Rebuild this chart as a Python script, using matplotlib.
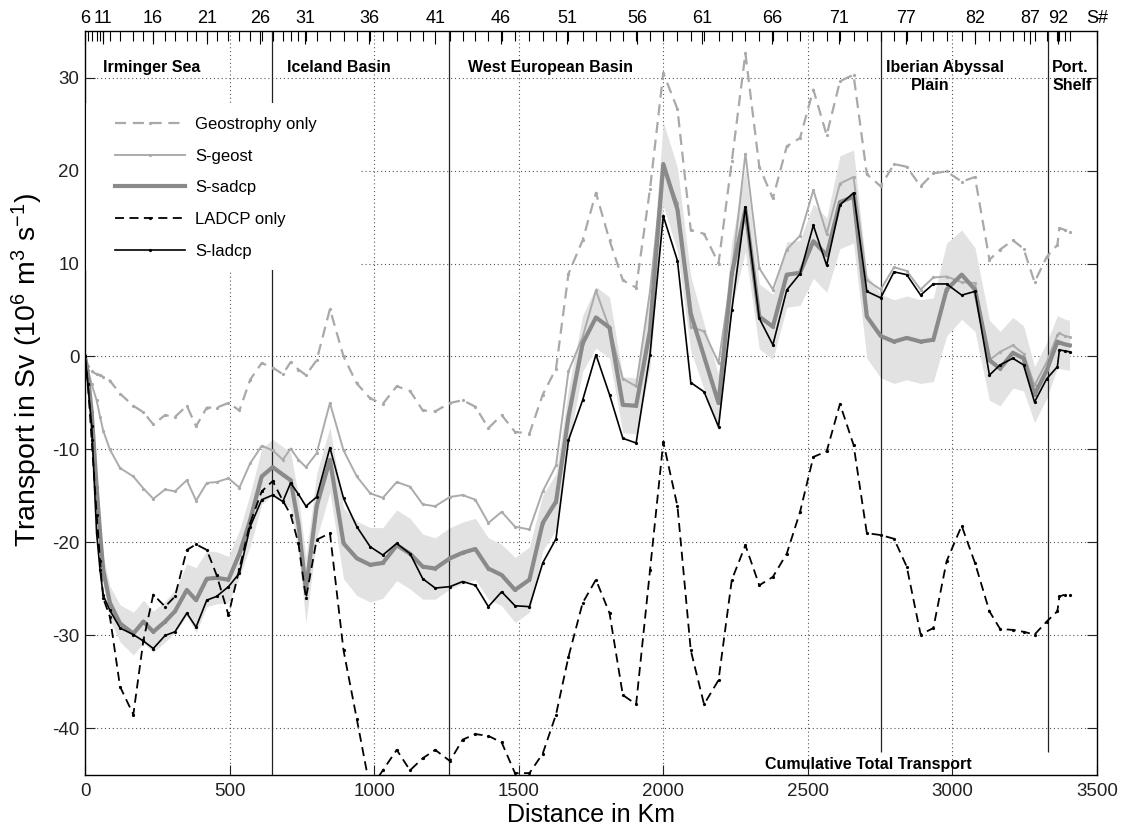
import numpy as np
import matplotlib
matplotlib.use("Agg")
import matplotlib.pyplot as plt
from matplotlib.patches import Rectangle

plt.rcParams['font.family'] = ['Liberation Sans', 'DejaVu Sans']
plt.rcParams['mathtext.default'] = 'regular'
plt.rcParams['axes.unicode_minus'] = False

# Station distances along the section (km)
dist_km = [0, 10, 23, 40, 52, 63,
           86, 121, 167, 202, 236,
           277, 311, 352, 384, 421,
           455, 496, 534, 571, 611,
           649, 684, 711, 738, 764,
           801, 847, 894, 940, 986,
           1030, 1078, 1124, 1168, 1211,
           1262, 1306, 1350, 1395, 1441,
           1487, 1537, 1583, 1629, 1672,
           1721, 1767, 1814, 1860, 1906,
           1954, 2000, 2049, 2095, 2141,
           2191, 2237, 2284, 2332, 2379,
           2427, 2473, 2519, 2565, 2611,
           2658, 2704, 2752, 2798, 2842,
           2890, 2934, 2980, 3032, 3078,
           3128, 3165, 3209, 3246, 3284,
           3326, 3363, 3370, 3390, 3405]

# Cumulative transports (Sv)
geostrophy_only = [0, -1.0, -1.6, -1.9, -2.0, -2.2,
                   -2.6, -4.0, -5.3, -6.0, -7.3,
                   -6.3, -6.5, -5.3, -7.5, -5.5,
                   -5.5, -5.0, -5.8, -2.5, -0.7,
                   -1.2, -1.9, -0.6, -1.4, -2.0,
                   -0.4, 5.1, 0.0, -2.9, -4.5,
                   -5.1, -3.2, -3.7, -5.8, -5.9,
                   -5.0, -4.7, -5.4, -7.7, -6.3,
                   -8.1, -8.3, -4.1, -1.3, 8.9,
                   12.5, 17.6, 12.5, 8.2, 7.4,
                   18.0, 30.5, 26.6, 13.6, 13.2,
                   10.0, 21.0, 32.6, 20.4, 17.0,
                   22.6, 23.5, 28.7, 23.8, 29.6,
                   30.3, 19.6, 18.3, 20.7, 20.4,
                   18.3, 19.7, 19.9, 18.8, 19.3,
                   10.4, 11.5, 12.5, 11.6, 8.0,
                   10.7, 12.0, 13.8, 13.6, 13.4]

s_geost = [0, -1.5, -3.0, -4.7, -6.5, -8.0,
           -10.0, -12.0, -12.9, -14.2, -15.3,
           -14.3, -14.5, -13.3, -15.5, -13.6,
           -13.5, -13.1, -14.1, -11.5, -9.6,
           -10.1, -11.1, -9.9, -11.1, -11.9,
           -10.4, -5.0, -10.1, -12.9, -14.7,
           -15.2, -13.5, -14.0, -15.9, -16.1,
           -15.1, -14.9, -15.4, -17.9, -16.7,
           -18.3, -18.6, -14.5, -11.7, -1.6,
           2.1, 7.1, 3.0, -2.4, -3.2,
           7.0, 20.5, 16.5, 3.2, 2.7,
           -0.7, 9.0, 21.8, 9.5, 7.2,
           11.5, 13.0, 17.9, 13.2, 18.6,
           19.3, 8.2, 7.2, 9.6, 9.2,
           7.2, 8.5, 8.6, 8.0, 7.9,
           -0.4, 0.5, 1.2, 0.3, -3.1,
           -0.6, 2.3, 2.5, 2.2, 2.1]

s_sadcp = [0, -2.0, -6.0, -14.0, -19.0, -23.0,
           -26.5, -28.7, -29.8, -28.5, -29.6,
           -28.5, -27.4, -25.1, -26.2, -23.9,
           -23.8, -24.0, -21.2, -17.6, -12.9,
           -11.9, -12.7, -13.3, -18.0, -25.1,
           -16.1, -11.1, -20.1, -21.7, -22.4,
           -22.2, -20.3, -21.2, -22.6, -22.8,
           -21.7, -21.1, -20.7, -22.8, -23.5,
           -25.1, -24.0, -17.9, -15.6, -6.5,
           1.4, 4.2, 3.1, -5.2, -5.3,
           2.8, 20.7, 15.8, 4.6, 0.0,
           -5.0, 8.9, 15.8, 4.3, 3.2,
           8.8, 9.0, 12.4, 10.9, 16.6,
           17.2, 4.3, 2.2, 1.6, 2.0,
           1.6, 1.8, 7.2, 8.8, 7.2,
           -0.4, -1.3, 0.4, -0.2, -4.1,
           -1.5, 1.6, 1.5, 1.3, 1.2]

# Uncertainty half-width of the S-sadcp estimate (Sv)
s_sadcp_err = [0, 0.3, 0.6, 1.0, 1.3, 1.5,
               1.8, 2.0, 2.3, 2.3, 2.2,
               2.2, 2.3, 2.8, 3.5, 3.0,
               2.8, 2.5, 2.5, 2.8, 3.0,
               3.0, 3.0, 3.0, 3.0, 3.5,
               3.5, 3.5, 3.8, 4.0, 4.0,
               3.8, 3.8, 3.8, 3.5, 3.3,
               3.3, 3.3, 3.3, 3.3, 3.3,
               3.5, 3.5, 3.0, 3.0, 3.0,
               3.0, 3.3, 3.3, 3.0, 3.0,
               4.0, 4.5, 4.5, 4.0, 3.5,
               3.0, 3.5, 4.5, 3.5, 3.5,
               3.5, 3.5, 4.0, 4.0, 5.0,
               5.0, 4.5, 4.5, 4.5, 4.5,
               4.5, 4.5, 5.0, 4.8, 4.5,
               4.3, 4.0, 3.8, 3.5, 3.0,
               3.0, 2.8, 2.8, 2.7, 2.7]

ladcp_only = [0, -3.0, -9.0, -17.0, -22.0, -26.0,
              -28.0, -35.5, -38.5, -30.5, -25.6,
              -26.9, -25.8, -20.8, -20.2, -20.8,
              -23.5, -27.8, -22.8, -17.9, -14.5,
              -13.4, -15.5, -17.0, -20.1, -26.0,
              -19.7, -19.0, -31.6, -39.0, -46.5,
              -44.5, -42.3, -44.5, -43.2, -42.3,
              -43.5, -41.2, -40.6, -40.8, -41.5,
              -44.8, -44.8, -42.7, -38.5, -32.3,
              -26.5, -24.0, -27.6, -36.4, -37.4,
              -23.0, -9.2, -16.1, -31.6, -37.4,
              -34.8, -24.0, -20.3, -24.6, -23.7,
              -21.2, -16.7, -10.8, -10.2, -5.1,
              -9.5, -19.0, -19.2, -19.6, -22.6,
              -29.9, -29.2, -22.0, -18.2, -22.2,
              -27.4, -29.3, -29.4, -29.6, -29.9,
              -28.5, -27.4, -25.8, -25.6, -25.7]

s_ladcp = [0, -3.0, -7.5, -19.0, -23.0, -25.7,
           -27.3, -29.2, -29.9, -30.6, -31.4,
           -30.0, -29.6, -27.6, -29.1, -26.2,
           -25.8, -24.75, -23.3, -18.3, -15.4,
           -14.9, -15.6, -13.6, -14.8, -16.1,
           -15.1, -9.8, -15.25, -18.3, -20.45,
           -21.35, -20.1, -21.2, -23.9, -24.9,
           -24.75, -24.2, -24.6, -26.9, -25.3,
           -26.8, -26.9, -22.2, -19.6, -9.0,
           -4.7, 0.2, -4.1, -8.8, -9.3,
           0.2, 15.1, 10.3, -2.8, -3.8,
           -7.55, 5.0, 16.1, 4.1, 1.25,
           7.15, 8.9, 14.1, 9.8, 16.3,
           17.6, 7.0, 6.3, 9.1, 8.8,
           6.6, 7.8, 7.8, 6.6, 7.0,
           -2.0, -0.9, -0.2, -0.9, -4.9,
           -2.4, -1.1, 0.7, 0.6, 0.5]

# Basin boundaries (km) and station-number axis
basin_bounds_km = [648, 1258, 2752, 3332]
station_label_km = [0, 62, 235, 422, 605, 761, 983, 1211, 1439, 1667, 1909,
                    2134, 2376, 2608, 2840, 3079, 3269, 3366, 3500]
station_labels = ['6', '11', '16', '21', '26', '31', '36', '41', '46', '51', '56',
                  '61', '66', '71', '77', '82', '87', '92', 'S#']

x = np.array(dist_km, dtype=float)
ss = np.array(s_sadcp)
err = np.array(s_sadcp_err)

fig = plt.figure(figsize=(11.25, 8.27), dpi=100)
ax = fig.add_axes([0.0756, 0.0629, 0.8995, 0.8996])
ax.set_xlim(0, 3500)
ax.set_ylim(-45, 35)
ax.set_axisbelow(True)

ax.fill_between(x, ss - err, ss + err, color='#e2e2e2', lw=0, zorder=1)

# basin separators
for i, b in enumerate(basin_bounds_km):
    ymin = -45 if i < 2 else -42.5
    ax.vlines(b, ymin, 35, color='#222222', lw=0.9, zorder=1.5)

mk = dict(marker='.', markersize=2.6)
h_geo, = ax.plot(x, geostrophy_only, ls=(0, (5, 3)), color='#a9a9a9', lw=1.6,
                 label='Geostrophy only', zorder=2, **mk)
h_sg, = ax.plot(x, s_geost, ls='-', color='#ababab', lw=1.4,
                label='S-geost', zorder=2.2, **mk)
h_ss, = ax.plot(x, ss, ls='-', color='#8a8a8a', lw=3.0,
                label='S-sadcp', zorder=2.4, **mk)
h_lo, = ax.plot(x, ladcp_only, ls=(0, (5, 3)), color='black', lw=1.3,
                label='LADCP only', zorder=2.6, **mk)
h_sl, = ax.plot(x, s_ladcp, ls='-', color='black', lw=1.2,
                label='S-ladcp', zorder=2.8, **mk)

ax.grid(True, ls=(0, (1, 2.5)), color='#555555', lw=0.8)
ax.set_xticks(np.arange(0, 3501, 500))
ax.set_yticks(np.arange(-40, 31, 10))
ax.tick_params(axis='both', which='both', direction='in', labelsize=13.5,
               right=True, length=7, width=0.8, colors='#222222')
ax.tick_params(axis='x', pad=6)
ax.tick_params(axis='y', pad=4)
for sp in ax.spines.values():
    sp.set_linewidth(1.0)
    sp.set_color('#444444')

ax.set_xlabel('Distance in Km', fontsize=18)
ax.xaxis.set_label_coords(0.5, -0.037)
ax.set_ylabel('Transport in Sv (10$^6$ m$^3$ s$^{-1}$)', fontsize=20.5)
ax.yaxis.set_label_coords(-0.040, 0.544)

# station-number axis along the top
top = ax.twiny()
top.set_xlim(ax.get_xlim())
top.set_xticks(station_label_km)
top.set_xticklabels(station_labels, fontsize=13)
top.set_xticks(dist_km, minor=True)
top.tick_params(which='major', direction='in', length=9, width=0.8, pad=3)
top.tick_params(which='minor', direction='in', length=7, width=0.8)

# region names
tk = dict(fontsize=11.5, fontweight='bold', va='center', ha='left')
ax.text(62, 31.1, 'Irminger Sea', **tk)
ax.text(698, 31.1, 'Iceland Basin', **tk)
ax.text(1325, 31.1, 'West European Basin', **tk)
ax.text(2770, 31.1, 'Iberian Abyssal', **tk)
ax.text(2855, 29.1, 'Plain', **tk)
ax.text(3345, 31.1, 'Port.', **tk)
ax.text(3345, 29.1, 'Shelf', **tk)
ax.text(2709, -43.9, 'Cumulative Total Transport', fontsize=11.5,
        fontweight='bold', ha='center', va='center')

# white backing behind the legend
ax.add_patch(Rectangle((0.0, 0.679), 0.272, 0.224, transform=ax.transAxes,
                       facecolor='white', edgecolor='none', zorder=4))
leg = ax.legend(handles=[h_geo, h_sg, h_ss, h_lo, h_sl], loc='upper left',
                bbox_to_anchor=(0.013, 0.907), borderaxespad=0, fontsize=12,
                frameon=False, handlelength=4.2, handletextpad=0.6,
                labelspacing=1.0, borderpad=1.0)
leg.set_zorder(5)

fig.savefig('out.png', dpi=100)
